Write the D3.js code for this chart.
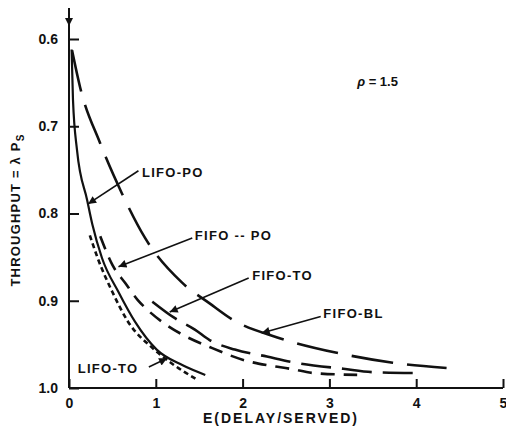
<!DOCTYPE html>
<html>
<head>
<meta charset="utf-8">
<script src="https://cdn.jsdelivr.net/npm/d3@7"></script>
<style>
  body { margin: 0; background: #fff; }
  svg text { font-family: "Liberation Sans", Arial, sans-serif; fill: #111; }
</style>
</head>
<body>
<svg id="chart" width="506" height="438"></svg>
<script>
// values (x = E(delay/served), y = throughput)
var xTicks = [0, 1, 2, 3, 4, 5];
var yTicks = [0.6, 0.7, 0.8, 0.9, 1.0];

var lifoPoX = [0.03, 0.046, 0.092, 0.21, 0.27, 0.38, 0.57, 0.76, 1.01, 1.31, 1.57];
var lifoPoY = [0.612, 0.67, 0.727, 0.785, 0.813, 0.851, 0.89, 0.924, 0.956, 0.974, 0.985];

var lifoToX = [0.24, 0.33, 0.5, 0.68, 0.96, 1.2, 1.47];
var lifoToY = [0.825, 0.851, 0.89, 0.924, 0.954, 0.973, 0.99];

var fifoPoX = [0.36, 0.5, 0.65, 0.79, 0.91, 1.07, 1.31, 1.62, 2.05, 2.29, 2.55, 2.83, 3.32];
var fifoPoY = [0.826, 0.859, 0.88, 0.899, 0.911, 0.924, 0.939, 0.953, 0.969, 0.974, 0.978, 0.983, 0.985];

var fifoToX = [0.96, 1.22, 1.45, 1.62, 1.91, 2.28, 2.55, 3.16, 3.53, 4.08];
var fifoToY = [0.901, 0.92, 0.933, 0.945, 0.956, 0.964, 0.97, 0.978, 0.982, 0.983];

var fifoBlX = [0.035, 0.127, 0.357, 0.61, 0.876, 1.3, 1.62, 1.89, 2.4, 3.1, 3.73, 4.35];
var fifoBlY = [0.613, 0.655, 0.719, 0.777, 0.828, 0.879, 0.903, 0.922, 0.942, 0.96, 0.971, 0.977];

// label text, where the text starts, and where its arrow points (data units)
var labelNames = ["LIFO-PO", "FIFO -- PO", "FIFO-TO", "FIFO-BL", "LIFO-TO"];
var labelAt = [[0.84, 0.754], [1.45, 0.827], [2.11, 0.872], [2.93, 0.916], [0.1, 0.979]];
var arrowFrom = [[0.8, 0.751], [1.42, 0.828], [2.07, 0.874], [2.9, 0.918], [0.92, 0.976]];
var arrowTo = [[0.22, 0.789], [0.57, 0.861], [1.16, 0.913], [2.22, 0.937], [1.13, 0.966]];

var svg = d3.select("#chart");

var x = d3.scaleLinear().domain([0, 5]).range([69, 503]);
var y = d3.scaleLinear().domain([0.6, 1.0]).range([39, 388]);

var defs = svg.append("defs");
defs.append("marker")
    .attr("id", "head")
    .attr("viewBox", "0 0 10 10")
    .attr("refX", 10).attr("refY", 5)
    .attr("markerWidth", 11).attr("markerHeight", 8)
    .attr("markerUnits", "userSpaceOnUse")
    .attr("orient", "auto")
  .append("path")
    .attr("d", "M0,0 L10,5 L0,10 Z")
    .attr("fill", "#111");

// axes
var xAxis = d3.axisBottom(x).tickValues(xTicks).tickFormat(d3.format("d"))
    .tickSizeInner(-9).tickSizeOuter(0).tickPadding(10);
var yAxis = d3.axisLeft(y).tickValues(yTicks).tickFormat(d3.format(".1f"))
    .tickSizeInner(-10).tickSizeOuter(0).tickPadding(11);

var gx = svg.append("g").attr("transform", "translate(0," + y(1.0) + ")").call(xAxis);
var gy = svg.append("g").attr("transform", "translate(" + x(0) + ",0)").call(yAxis);

[gx, gy].forEach(function(g) {
  g.select(".domain").remove();
  g.selectAll("line").attr("stroke", "#111").attr("stroke-width", 2);
  g.selectAll("text").attr("font-size", 14).attr("font-weight", "bold")
    .attr("fill", "#111").style("font-family", "'Liberation Sans', Arial, sans-serif");
});

svg.append("line")
    .attr("x1", x(0)).attr("x2", x(5))
    .attr("y1", y(1.0)).attr("y2", y(1.0))
    .attr("stroke", "#111").attr("stroke-width", 2);

// vertical axis runs past 0.6 and ends in a downward arrow
svg.append("line")
    .attr("x1", x(0)).attr("x2", x(0))
    .attr("y1", y(1.0)).attr("y2", 8)
    .attr("stroke", "#111").attr("stroke-width", 2);
svg.append("line")
    .attr("x1", x(0)).attr("x2", x(0))
    .attr("y1", 10).attr("y2", 26)
    .attr("stroke", "none")
    .attr("marker-end", "url(#head)");

// curves
var line = d3.line()
    .x(function(d) { return x(d[0]); })
    .y(function(d) { return y(d[1]); })
    .curve(d3.curveMonotoneX);

var curves = [
  { xs: lifoPoX, ys: lifoPoY, dash: null, w: 2.2 },
  { xs: lifoToX, ys: lifoToY, dash: "5,3.5", w: 2.6 },
  { xs: fifoPoX, ys: fifoPoY, dash: "14,9", w: 2.6 },
  { xs: fifoToX, ys: fifoToY, dash: "30,11", w: 2.6 },
  { xs: fifoBlX, ys: fifoBlY, dash: "42,14", w: 2.6 }
];

curves.forEach(function(c) {
  var pts = d3.zip(c.xs, c.ys);
  svg.append("path")
      .datum(pts)
      .attr("d", line)
      .attr("fill", "none")
      .attr("stroke", "#111")
      .attr("stroke-width", c.w)
      .attr("stroke-dasharray", c.dash);
});

// labels with arrows
labelNames.forEach(function(name, i) {
  svg.append("line")
      .attr("x1", x(arrowFrom[i][0])).attr("y1", y(arrowFrom[i][1]))
      .attr("x2", x(arrowTo[i][0])).attr("y2", y(arrowTo[i][1]))
      .attr("stroke", "#111").attr("stroke-width", 1.6)
      .attr("marker-end", "url(#head)");
  svg.append("text")
      .attr("x", x(labelAt[i][0])).attr("y", y(labelAt[i][1]))
      .attr("dominant-baseline", "middle")
      .attr("font-size", 13)
      .attr("font-weight", "bold")
      .attr("letter-spacing", 1.3)
      .text(name);
});

svg.append("text")
    .attr("x", x(3.32)).attr("y", y(0.65))
    .attr("dominant-baseline", "middle")
    .attr("font-size", 13)
    .attr("font-weight", "bold")
    .html('<tspan font-style="italic">\u03c1</tspan> = 1.5');

svg.append("text")
    .attr("x", (x(0) + x(5)) / 2 - 5).attr("y", 419)
    .attr("text-anchor", "middle")
    .attr("dominant-baseline", "middle")
    .attr("font-size", 14)
    .attr("font-weight", "bold")
    .attr("letter-spacing", 2)
    .text("E(DELAY/SERVED)");

var ylab = svg.append("text")
    .attr("transform", "translate(17,210) rotate(-90)")
    .attr("text-anchor", "middle")
    .attr("dominant-baseline", "middle")
    .attr("font-size", 13)
    .attr("font-weight", "bold")
    .attr("letter-spacing", 1.2);
ylab.append("tspan").text("THROUGHPUT = \u03bb P");
ylab.append("tspan").attr("dy", 4).attr("font-size", 10).text("S");
</script>
</body>
</html>
